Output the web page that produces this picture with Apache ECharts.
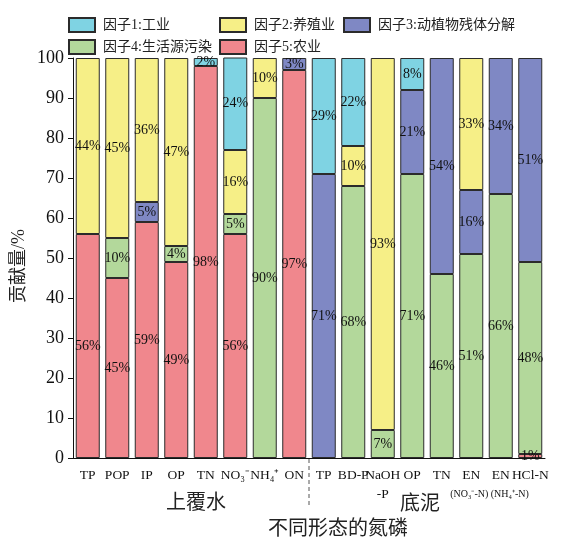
<!DOCTYPE html>
<html>
<head>
<meta charset="utf-8">
<script src="https://cdn.jsdelivr.net/npm/echarts@6/dist/echarts.min.js"></script>
<style>
  html, body { margin: 0; padding: 0; background: #fff; }
  #chart { width: 570px; height: 537px; }
</style>
</head>
<body>
<div id="chart"></div>
<script>
// Nitrogen / phosphorus forms: overlying water (上覆水) and sediment (底泥)
const categories = ['TP', 'POP', 'IP', 'OP', 'TN', 'NO₃⁻', 'NH₄⁺', 'ON',
                    'TP', 'BD-P', 'NaOH', 'OP', 'TN', 'EN', 'EN', 'HCl-N'];
const subLabels = ['', '', '', '', '', '', '', '',
                   '', '', '-P', '', '', '(NO₃⁻-N)', '(NH₄⁺-N)', ''];
const groupNames = ['上覆水', '底泥'];

// Contribution (%) of each factor
const industry    = [null, null, null, null, 2, 24, null, null, 29, 22, null, 8, null, null, null, null];
const aquaculture = [44, 45, 36, 47, null, 16, 10, null, null, 10, 93, null, null, 33, null, null];
const plantDecay  = [null, null, 5, null, null, null, null, 3, 71, null, null, 21, 54, 16, 34, 51];
const domestic    = [null, 10, null, 4, null, 5, 90, null, null, 68, 7, 71, 46, 51, 66, 48];
const agriculture = [56, 45, 59, 49, 98, 56, null, 97, null, null, null, null, null, null, null, 1];

const yTicks = [0, 10, 20, 30, 40, 50, 60, 70, 80, 90, 100];

const SERIF = '"Liberation Serif", "Times New Roman", "Noto Sans CJK SC", serif';
const BORDER = '#2b2b2b';

function barSeries(name, data, color) {
  return {
    name: name,
    type: 'bar',
    stack: 'total',
    data: data,
    barWidth: 24,
    itemStyle: { color: color, borderColor: BORDER, borderWidth: 1 },
    label: {
      show: true,
      position: 'inside',
      color: '#111',
      fontFamily: SERIF,
      fontSize: 14,
      formatter: p => (p.value == null ? '' : p.value + '%')
    },
    emphasis: { disabled: true }
  };
}

const legendBase = {
  orient: 'horizontal',
  padding: 0,
  itemWidth: 26,
  itemHeight: 14,
  icon: 'rect',
  textStyle: { fontFamily: SERIF, fontSize: 14, color: '#222', padding: [0, 0, 0, 3] }
};

// second-line caption style per category
function subStyle(i) {
  if (subLabels[i] === '-P') return 'p';
  if (i === 14) return 't';
  return 's';
}

const chart = echarts.init(document.getElementById('chart'), null, { renderer: 'canvas' });

chart.setOption({
  animation: false,
  backgroundColor: '#fff',
  grid: { left: 73, right: 25, top: 58, bottom: 79, containLabel: false, outerBoundsMode: 'none' },
  legend: [
    Object.assign({}, legendBase, { data: ['因子1:工业'], left: 68, top: 17 }),
    Object.assign({}, legendBase, { data: ['因子2:养殖业'], left: 219, top: 17 }),
    Object.assign({}, legendBase, { data: ['因子3:动植物残体分解'], left: 343, top: 17 }),
    Object.assign({}, legendBase, { data: ['因子4:生活源污染'], left: 68, top: 39 }),
    Object.assign({}, legendBase, { data: ['因子5:农业'], left: 219, top: 39 })
  ],
  xAxis: {
    type: 'category',
    data: categories,
    name: '不同形态的氮磷',
    nameLocation: 'middle',
    nameGap: 62,
    nameTextStyle: { fontFamily: SERIF, fontSize: 20, color: '#222', padding: [0, 0, 0, 58] },
    axisLine: { lineStyle: { color: '#111', width: 1 } },
    axisTick: { alignWithLabel: true, length: 5, lineStyle: { color: '#111' } },
    axisLabel: {
      interval: 0,
      margin: 8,
      color: '#111',
      fontFamily: SERIF,
      fontSize: 13,
      formatter: (v, i) => subLabels[i]
        ? '{m|' + v + '}\n{' + subStyle(i) + '|' + subLabels[i] + '}'
        : '{m|' + v + '}',
      rich: {
        m: { fontFamily: SERIF, fontSize: 13.5, color: '#111', lineHeight: 18 },
        p: { fontFamily: SERIF, fontSize: 13.5, color: '#111', lineHeight: 20 },
        s: { fontFamily: SERIF, fontSize: 10, color: '#111', lineHeight: 20, padding: [0, 4, 0, 0] },
        t: { fontFamily: SERIF, fontSize: 10, color: '#111', lineHeight: 20, padding: [0, 0, 0, 18] }
      }
    },
    splitLine: { show: false }
  },
  yAxis: {
    type: 'value',
    min: yTicks[0],
    max: yTicks[yTicks.length - 1],
    interval: yTicks[1] - yTicks[0],
    name: '贡献量/%',
    nameLocation: 'middle',
    nameGap: 45,
    nameMoveOverlap: false,
    nameTextStyle: { fontFamily: SERIF, fontSize: 18, color: '#222', padding: [0, 16, 0, 0] },
    axisLine: { show: true, lineStyle: { color: '#111', width: 1 } },
    axisTick: { show: true, length: 5, lineStyle: { color: '#111' } },
    axisLabel: { margin: 9, color: '#111', fontFamily: SERIF, fontSize: 18 },
    splitLine: { show: false }
  },
  series: [
    barSeries('因子5:农业', agriculture, '#f0878d'),
    barSeries('因子4:生活源污染', domestic, '#b3d89b'),
    barSeries('因子3:动植物残体分解', plantDecay, '#7f88c4'),
    barSeries('因子2:养殖业', aquaculture, '#f6ef87'),
    barSeries('因子1:工业', industry, '#7fd3e3')
  ]
});

// Group captions and the dashed divider under the category axis
function drawGroups() {
  const px = i => chart.convertToPixel({ xAxisIndex: 0 }, i);
  const y0 = chart.convertToPixel({ yAxisIndex: 0 }, 0);
  const splitX = (px(7) + px(8)) / 2;
  const waterX = (px(0) + px(7)) / 2 + 5;
  const sedX = (px(8) + px(15)) / 2 - 7;
  chart.setOption({
    graphic: [
      {
        type: 'line',
        shape: { x1: splitX, y1: y0 + 1, x2: splitX, y2: y0 + 47 },
        style: { stroke: '#555', lineWidth: 1, lineDash: [4, 3] },
        silent: true
      },
      {
        type: 'text',
        x: waterX, y: y0 + 46,
        style: { text: groupNames[0], font: '20px ' + SERIF, fill: '#222', align: 'center', verticalAlign: 'middle' },
        silent: true
      },
      {
        type: 'text',
        x: sedX, y: y0 + 47,
        style: { text: groupNames[1], font: '20px ' + SERIF, fill: '#222', align: 'center', verticalAlign: 'middle' },
        silent: true
      }
    ]
  });
}
drawGroups();
</script>
</body>
</html>
